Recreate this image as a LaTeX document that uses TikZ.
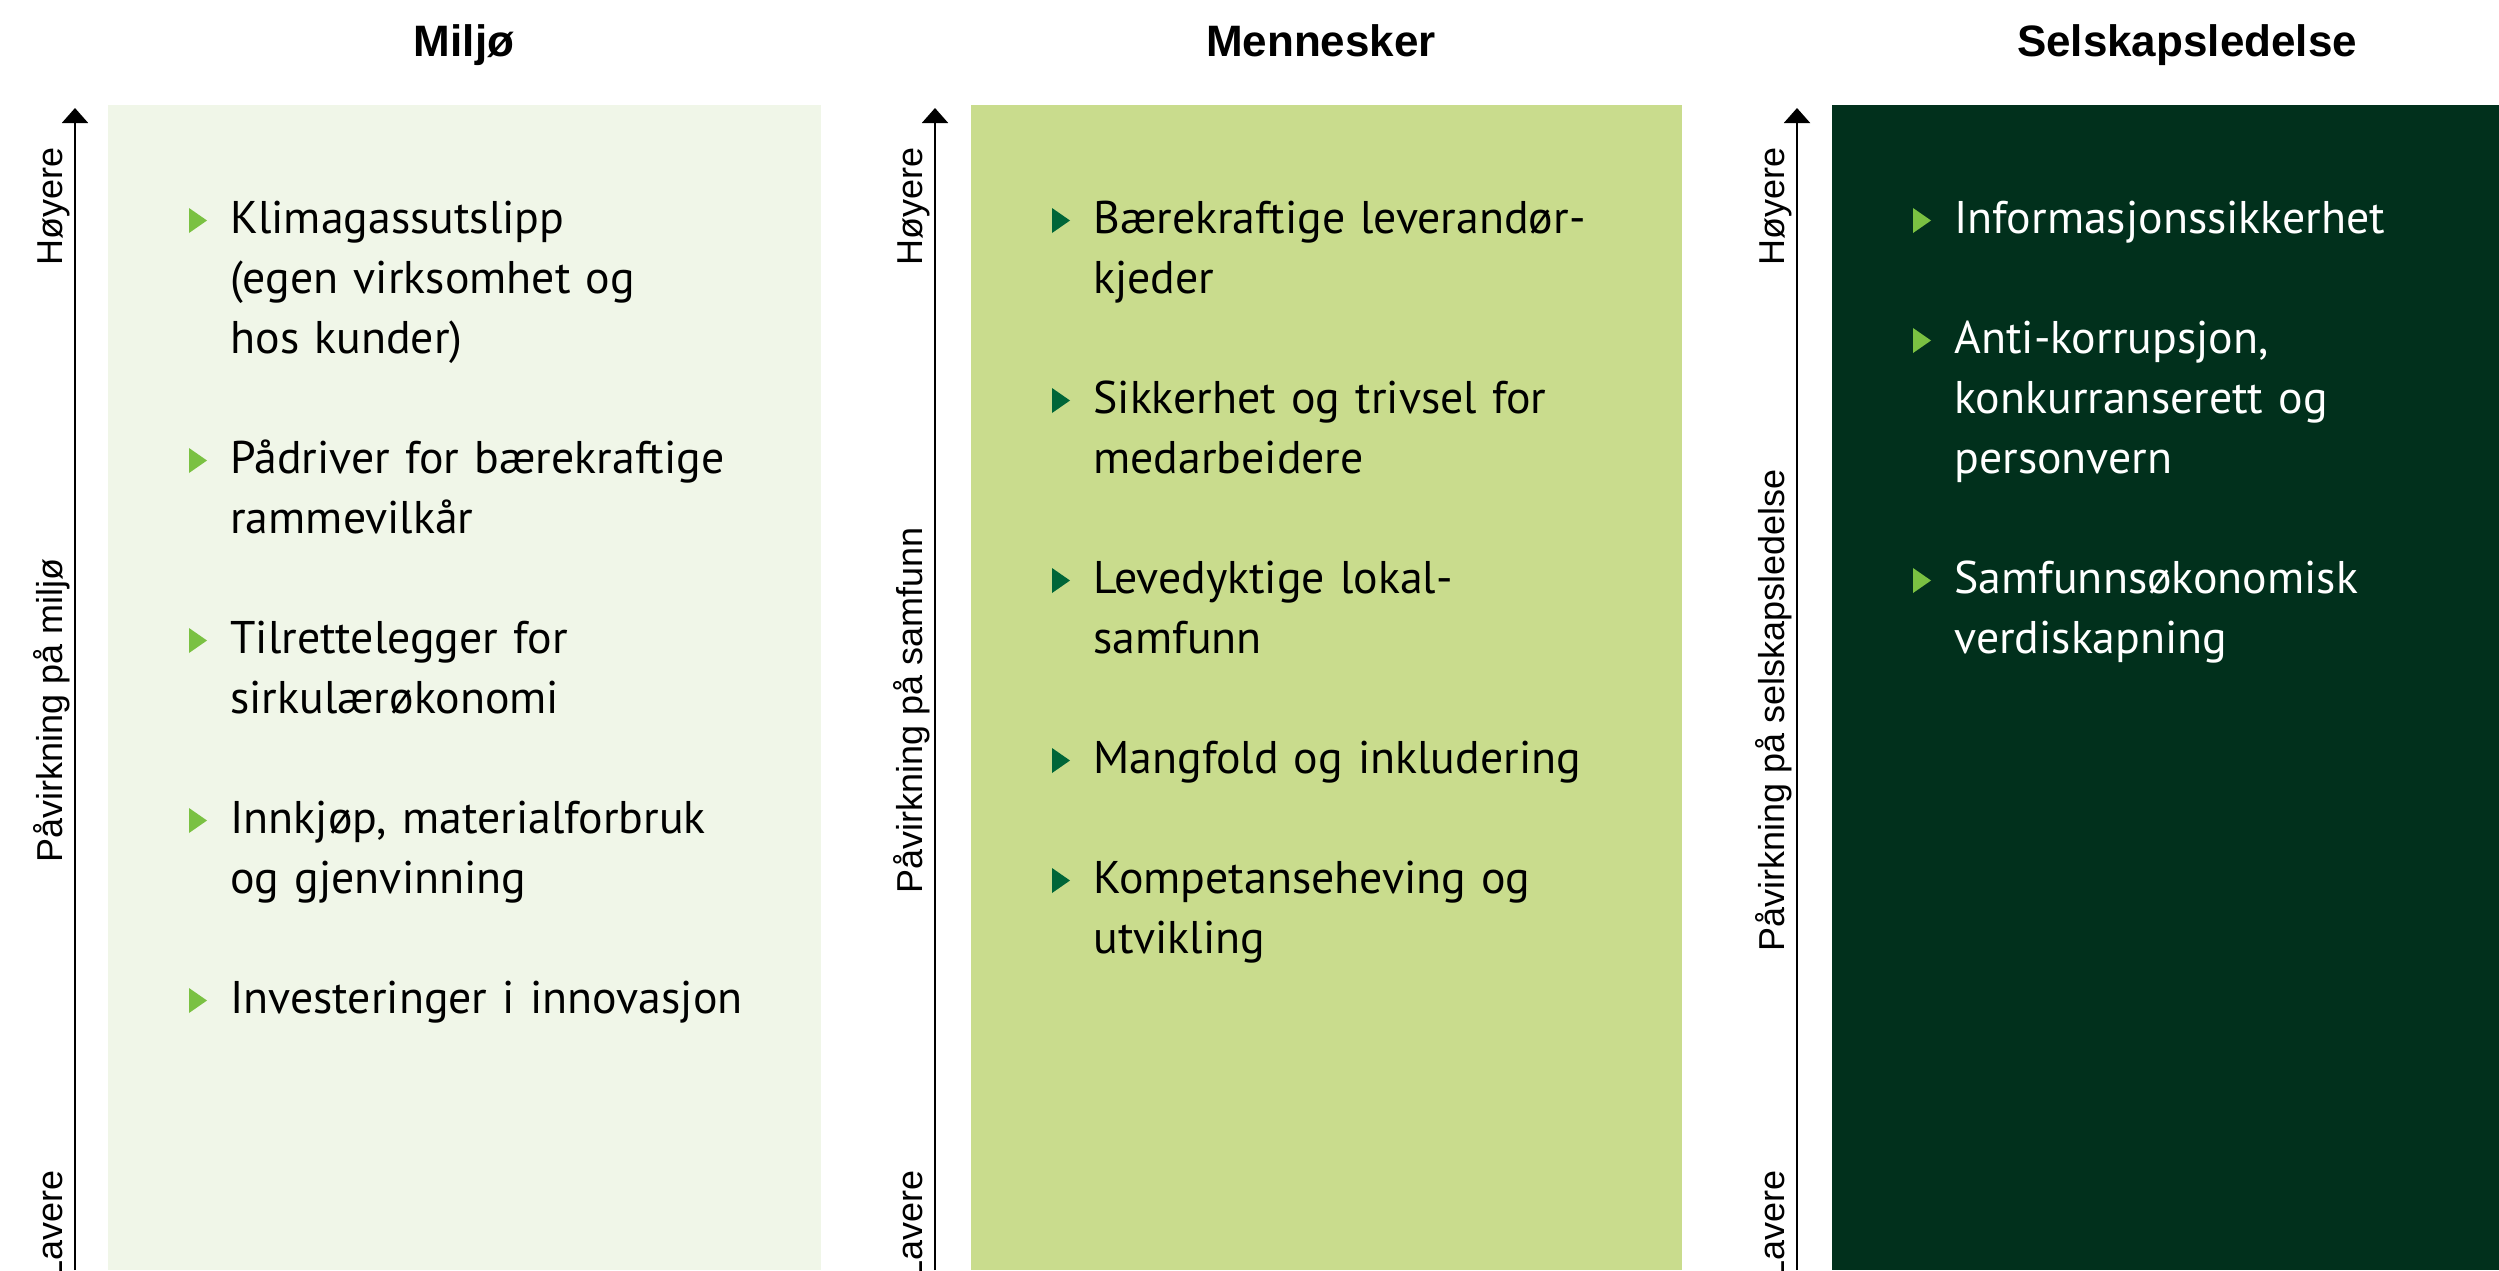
\documentclass[tikz,border=0pt]{standalone}
\usepackage{fontspec}
\setmainfont{PT Sans}
\newfontfamily\axisfont{Liberation Sans}
\usetikzlibrary{arrows.meta}
\definecolor{miljobg}{RGB}{240,246,232}
\definecolor{menneskerbg}{RGB}{201,220,141}
\definecolor{ledelsebg}{RGB}{1,48,28}
\definecolor{lightgreen}{RGB}{122,193,66}
\definecolor{darkgreen}{RGB}{0,102,56}

\begin{document}
\begin{tikzpicture}[x=0.5pt,y=-0.5pt,
    heading/.style={anchor=base,font=\axisfont\fontsize{22}{26}\selectfont\bfseries},
    entry/.style={anchor=base west,inner sep=0pt,text width=330pt,align=left,font=\fontsize{22.9}{30}\selectfont},
    axislabel/.style={rotate=90,inner sep=0pt,font=\axisfont\fontsize{18}{20}\selectfont},
    axisline/.style={line width=1pt,-{Triangle[width=13pt,length=7.5pt]}},
    pointer/.pic={\fill (-41,0) -- (-41,-25) -- (-23,-12.5) -- cycle;}]
	\useasboundingbox (0,0) rectangle (2499,1270);
	\clip (0,0) rectangle (2499,1270);

	% column backgrounds
	\fill[miljobg] (108,105) rectangle (821,1270);
	\fill[menneskerbg] (971,105) rectangle (1682,1270);
	\fill[ledelsebg] (1832,105) rectangle (2544,1270);

	% headings
	\node[heading] (miljo) at (464,56) {Miljø};
	\node[heading] (mennesker) at (1321,56) {Mennesker};
	\node[heading] (ledelse) at (2187,56) {Selskapsledelse};

	% impact axes
	\coordinate (lo1) at (75,1270);
	\coordinate (hi1) at (75,108);
	\coordinate (lo2) at (935,1270);
	\coordinate (hi2) at (935,108);
	\coordinate (lo3) at (1797,1270);
	\coordinate (hi3) at (1797,108);
	\draw[axisline] (lo1) -- (hi1);
	\draw[axisline] (lo2) -- (hi2);
	\draw[axisline] (lo3) -- (hi3);

	\node[axislabel,anchor=base east] (hoy1) at (62,147) {Høyere};
	\node[axislabel,anchor=base] (pav1) at (62,710) {Påvirkning på miljø};
	\node[axislabel,anchor=base east] (lav1) at (62,1170) {Lavere};
	\node[axislabel,anchor=base east] (hoy2) at (922,147) {Høyere};
	\node[axislabel,anchor=base] (pav2) at (922,710) {Påvirkning på samfunn};
	\node[axislabel,anchor=base east] (lav2) at (922,1170) {Lavere};
	\node[axislabel,anchor=base east] (hoy3) at (1784,147) {Høyere};
	\node[axislabel,anchor=base] (pav3) at (1784,710) {Påvirkning på selskapsledelse};
	\node[axislabel,anchor=base east] (lav3) at (1784,1170) {Lavere};

	% Miljø
	\node[entry] (klima) at (230,233) {Klimagassutslipp\\(egen virksomhet og\\hos kunder)};
	\node[entry] (padriver) at (230,473) {Pådriver for bærekraftige\\rammevilkår};
	\node[entry] (sirkular) at (230,653) {Tilrettelegger for\\sirkulærøkonomi};
	\node[entry] (innkjop) at (230,833) {Innkjøp, materialforbruk\\og gjenvinning};
	\node[entry] (invest) at (230,1013) {Investeringer i innovasjon};
	\pic[lightgreen] at (klima.base west) {pointer};
	\pic[lightgreen] at (padriver.base west) {pointer};
	\pic[lightgreen] at (sirkular.base west) {pointer};
	\pic[lightgreen] at (innkjop.base west) {pointer};
	\pic[lightgreen] at (invest.base west) {pointer};

	% Mennesker
	\node[entry] (leverandor) at (1093,233) {Bærekraftige leverandør-\\kjeder};
	\node[entry] (trivsel) at (1093,413) {Sikkerhet og trivsel for\\medarbeidere};
	\node[entry] (lokal) at (1093,593) {Levedyktige lokal-\\samfunn};
	\node[entry] (mangfold) at (1093,773) {Mangfold og inkludering};
	\node[entry] (kompetanse) at (1093,893) {Kompetanseheving og\\utvikling};
	\pic[darkgreen] at (leverandor.base west) {pointer};
	\pic[darkgreen] at (trivsel.base west) {pointer};
	\pic[darkgreen] at (lokal.base west) {pointer};
	\pic[darkgreen] at (mangfold.base west) {pointer};
	\pic[darkgreen] at (kompetanse.base west) {pointer};

	% Selskapsledelse
	\node[entry,text=white] (infosik) at (1954,233) {Informasjonssikkerhet};
	\node[entry,text=white] (korrupsjon) at (1954,353) {Anti-korrupsjon,\\konkurranserett og\\personvern};
	\node[entry,text=white] (verdi) at (1954,593) {Samfunnsøkonomisk\\verdiskapning};
	\pic[lightgreen] at (infosik.base west) {pointer};
	\pic[lightgreen] at (korrupsjon.base west) {pointer};
	\pic[lightgreen] at (verdi.base west) {pointer};
\end{tikzpicture}
\end{document}
